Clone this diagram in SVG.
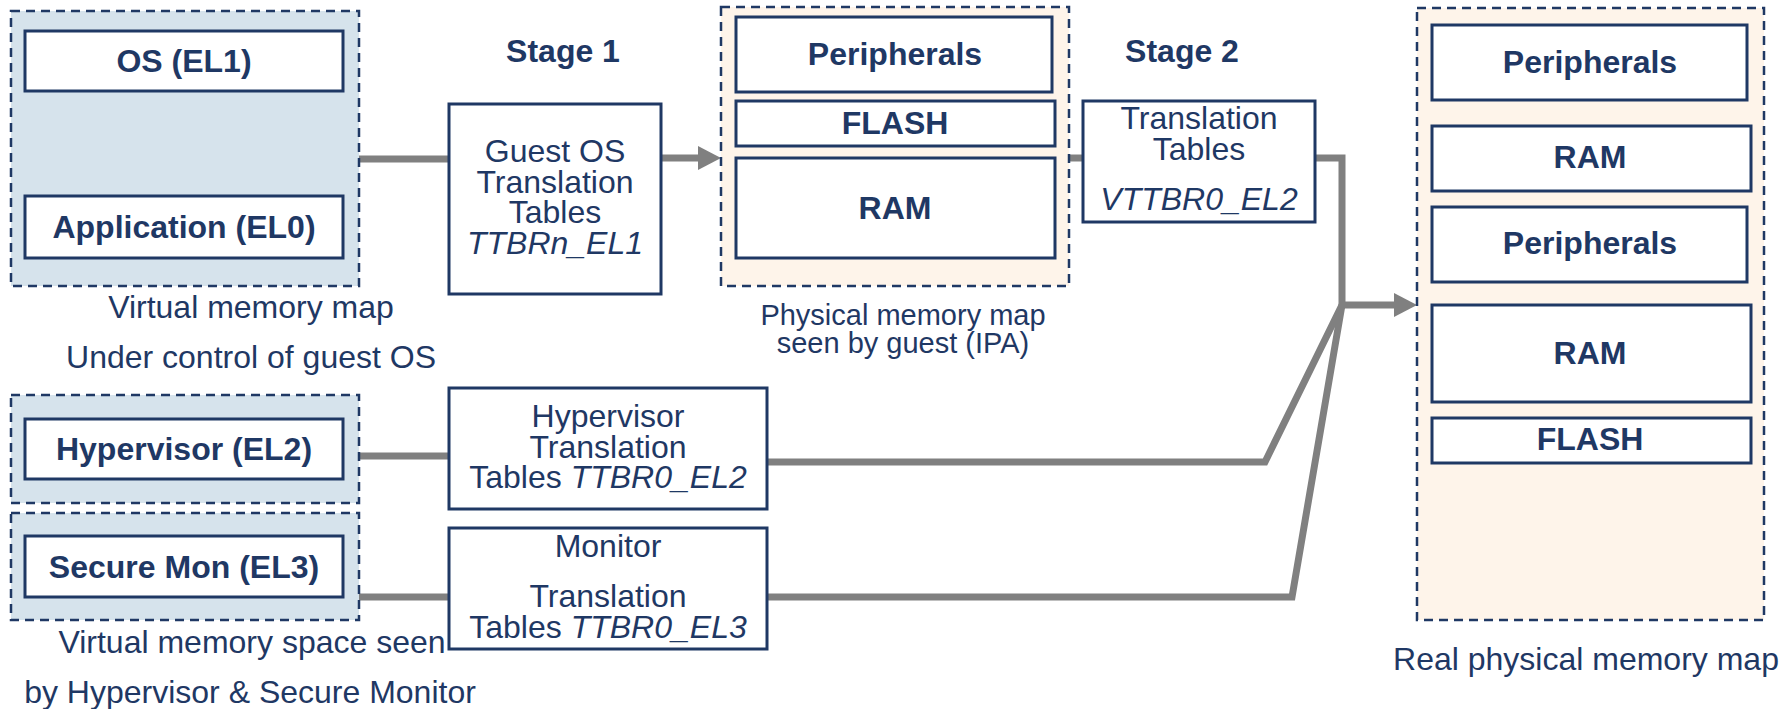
<svg xmlns="http://www.w3.org/2000/svg" width="1789" height="709" viewBox="0 0 1789 709">
  <defs>
    <style>
      .map-virt { fill: #d6e3ec; stroke: #1f3864; stroke-width: 2.5; stroke-dasharray: 9 6; }
      .map-phys { fill: #fef4ea; stroke: #1f3864; stroke-width: 2.5; stroke-dasharray: 9 6; }
      .box { fill: #ffffff; stroke: #1f3864; stroke-width: 3; }
      .t { font-family: "Liberation Sans", Arial, sans-serif; font-size: 32px; fill: #1f3864; text-anchor: middle; }
      .sm { font-size: 29px; }
      .b { font-weight: bold; }
      .i { font-style: italic; }
      .conn { fill: none; stroke: #808080; stroke-width: 7; stroke-linejoin: miter; }
    </style>
    <marker id="arrow" markerUnits="userSpaceOnUse" markerWidth="24" markerHeight="24" refX="0" refY="12" orient="auto">
      <path d="M0,0 L23,12 L0,24 Z" fill="#808080"/>
    </marker>
  </defs>

  <rect x="0" y="0" width="1789" height="709" fill="#ffffff"/>

  <!-- connectors -->
  <g id="connectors">
    <path class="conn" d="M359,159 H449"/>
    <path class="conn" d="M661,158 H698" marker-end="url(#arrow)"/>
    <path class="conn" d="M1070,158 H1083"/>
    <path class="conn" d="M1315,158 H1342 V305 H1394" marker-end="url(#arrow)"/>
    <path class="conn" d="M359,456 H449"/>
    <path class="conn" d="M767,462 H1265 L1342,305"/>
    <path class="conn" d="M359,597 H449"/>
    <path class="conn" d="M767,597 H1292 L1342,305"/>
  </g>

  <!-- guest virtual memory map -->
  <g id="guest-va-map">
    <rect class="map-virt" x="11" y="11" width="348" height="275"/>
    <rect class="box" x="25" y="31" width="318" height="60"/>
    <text class="t b" x="184" y="72">OS (EL1)</text>
    <rect class="box" x="25" y="196" width="318" height="62"/>
    <text class="t b" x="184" y="238">Application (EL0)</text>
    <text class="t" x="251" y="318">Virtual memory map</text>
    <text class="t" x="251" y="368">Under control of guest OS</text>
  </g>

  <!-- stage 1 tables -->
  <g id="stage1-label">
    <text class="t b" x="563" y="62">Stage 1</text>
  </g>
  <g id="guest-tables">
    <rect class="box" x="449" y="104" width="212" height="190"/>
    <text class="t" x="555" y="162">Guest OS</text>
    <text class="t" x="555" y="193">Translation</text>
    <text class="t" x="555" y="223">Tables</text>
    <text class="t i" x="555" y="254">TTBRn_EL1</text>
  </g>

  <!-- intermediate physical address map -->
  <g id="ipa-map">
    <rect class="map-phys" x="721" y="7" width="348" height="279"/>
    <rect class="box" x="736" y="17" width="316" height="75"/>
    <text class="t b" x="895" y="65">Peripherals</text>
    <rect class="box" x="736" y="101" width="319" height="45"/>
    <text class="t b" x="895" y="134">FLASH</text>
    <rect class="box" x="736" y="158" width="319" height="100"/>
    <text class="t b" x="895" y="219">RAM</text>
    <text class="t sm" x="903" y="325">Physical memory map</text>
    <text class="t sm" x="903" y="353">seen by guest (IPA)</text>
  </g>

  <!-- stage 2 tables -->
  <g id="stage2-label">
    <text class="t b" x="1182" y="62">Stage 2</text>
  </g>
  <g id="stage2-tables">
    <rect class="box" x="1083" y="101" width="232" height="121"/>
    <text class="t" x="1199" y="129">Translation</text>
    <text class="t" x="1199" y="160">Tables</text>
    <text class="t i" x="1199" y="210">VTTBR0_EL2</text>
  </g>

  <!-- real physical memory map -->
  <g id="pa-map">
    <rect class="map-phys" x="1417" y="8" width="347" height="612"/>
    <rect class="box" x="1432" y="25" width="315" height="75"/>
    <text class="t b" x="1590" y="73">Peripherals</text>
    <rect class="box" x="1432" y="126" width="319" height="65"/>
    <text class="t b" x="1590" y="168">RAM</text>
    <rect class="box" x="1432" y="207" width="315" height="75"/>
    <text class="t b" x="1590" y="254">Peripherals</text>
    <rect class="box" x="1432" y="305" width="319" height="97"/>
    <text class="t b" x="1590" y="364">RAM</text>
    <rect class="box" x="1432" y="418" width="319" height="45"/>
    <text class="t b" x="1590" y="450">FLASH</text>
    <text class="t" x="1586" y="670">Real physical memory map</text>
  </g>

  <!-- hypervisor virtual space -->
  <g id="hyp-va-map">
    <rect class="map-virt" x="11" y="395" width="348" height="108"/>
    <rect class="box" x="25" y="419" width="318" height="60"/>
    <text class="t b" x="184" y="460">Hypervisor (EL2)</text>
  </g>

  <!-- secure monitor virtual space -->
  <g id="mon-va-map">
    <rect class="map-virt" x="11" y="513" width="348" height="107"/>
    <rect class="box" x="25" y="536" width="318" height="61"/>
    <text class="t b" x="184" y="578">Secure Mon (EL3)</text>
    <text class="t" x="252" y="653">Virtual memory space seen</text>
    <text class="t" x="250" y="703">by Hypervisor &amp; Secure Monitor</text>
  </g>

  <!-- hypervisor tables -->
  <g id="hyp-tables">
    <rect class="box" x="449" y="388" width="318" height="121"/>
    <text class="t" x="608" y="427">Hypervisor</text>
    <text class="t" x="608" y="458">Translation</text>
    <text class="t" x="608" y="488">Tables <tspan class="i">TTBR0_EL2</tspan></text>
  </g>

  <!-- monitor tables -->
  <g id="mon-tables">
    <rect class="box" x="449" y="528" width="318" height="121"/>
    <text class="t" x="608" y="557">Monitor</text>
    <text class="t" x="608" y="607">Translation</text>
    <text class="t" x="608" y="638">Tables <tspan class="i">TTBR0_EL3</tspan></text>
  </g>
</svg>
